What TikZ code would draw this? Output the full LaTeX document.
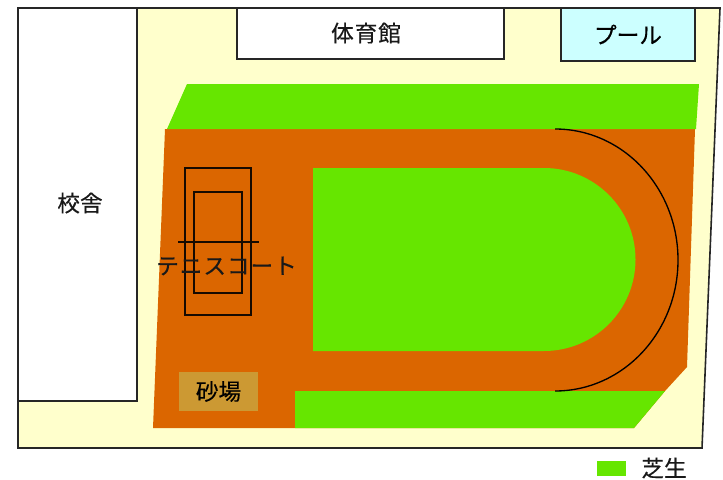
\documentclass[tikz,border=0pt]{standalone}
\usepackage{fontspec}
\setmainfont{Noto Sans CJK JP}[FakeBold=0.3]
\newfontfamily\widecjk{Noto Sans CJK JP}[LetterSpace=4,FakeBold=0.3]
\definecolor{cream}{HTML}{FFFFCC}
\definecolor{turf}{HTML}{66E600}
\definecolor{track}{HTML}{DB6600}
\definecolor{sand}{HTML}{CC9933}
\definecolor{pool}{HTML}{CCFFFF}
\tikzset{
  x=0.75pt,y=-0.75pt,
  building/.style={draw=black!85,line width=1.2pt,fill=white,inner sep=0pt,font=\fontsize{17}{20}\selectfont},
  court/.style={draw=black!90!track,line width=1.2pt},
  labeltext/.style={inner sep=0pt,font=\fontsize{17}{20}\selectfont,text=black!90},
}
\begin{document}
\begin{tikzpicture}
\useasboundingbox (0,0) rectangle (723,479);
% site
\draw[fill=cream,draw=black!85,line width=1.2pt] (18,8) -- (720,8) -- (702,448) -- (18,448) -- cycle;
% track ground
\fill[track] (165,129) -- (695,129) -- (687,367) -- (665,391) -- (634,428) -- (153,428) -- cycle;
% turf
\fill[turf] (167,129) -- (187,84) -- (699,84) -- (696,129) -- cycle;
\fill[turf] (295,391) -- (665,391) -- (634,428) -- (295,428) -- cycle;
\fill[turf] (313,168) -- (544,168) arc[start angle=-90,end angle=90,radius=91.5] -- (313,351) -- cycle;
% running line
\draw[black,line width=1pt] (555,129) arc[start angle=-90,end angle=90,x radius=123,y radius=131];
% tennis court
\draw[court] (185,168) rectangle (251,315);
\draw[court] (194,192) rectangle (242,293);
\coordinate (netL) at (178,242);
\coordinate (netR) at (259,242);
\draw[court] (netL) -- (netR);
\node[labeltext] (tennis) at (226.5,266) {\widecjk テニスコート};
% sand pit
\node[fill=sand,minimum width=59.25pt,minimum height=29.25pt,inner sep=0pt,font=\fontsize{17}{20}\selectfont] (sandpit) at (218.5,391.5) {砂場};
% buildings
\node[building,minimum width=89.25pt,minimum height=294.75pt] (school) at (77.5,204.5) {};
\node[labeltext] (schoollabel) at (80,203) {校舎};
\node[building,minimum width=200.25pt,minimum height=38.25pt] (gym) at (370.5,33.5) {};
\node[labeltext] (gymlabel) at (366,33) {\widecjk 体育館};
\node[building,fill=pool,minimum width=100.5pt,minimum height=39.75pt] (poolbox) at (628,34.5) {プール};
% legend
\node[fill=turf,minimum width=21.75pt,minimum height=11.25pt,inner sep=0pt] (legendswatch) at (611.5,468.5) {};
\node[labeltext] (legendlabel) at (664,468) {芝生};
\end{tikzpicture}
\end{document}
